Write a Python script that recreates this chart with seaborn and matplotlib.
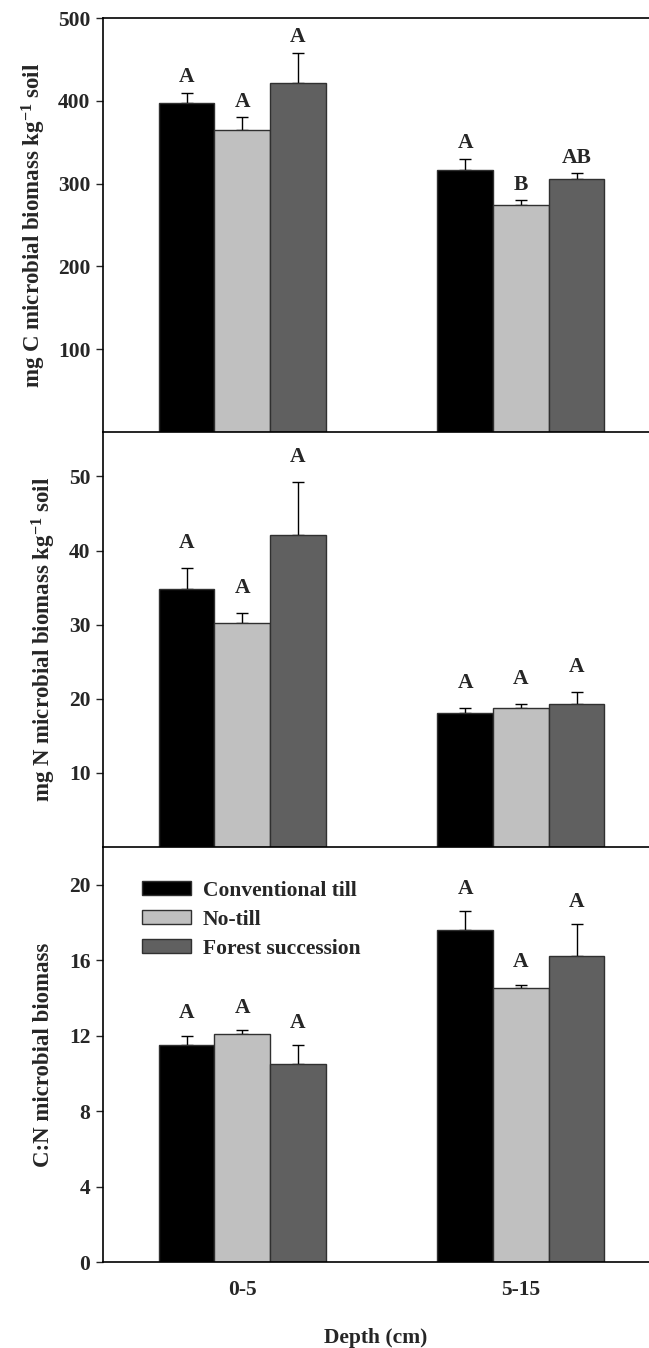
import numpy as np
import pandas as pd
import matplotlib
matplotlib.use("Agg")
import matplotlib.pyplot as plt
import seaborn as sns

# Data
depths = ["0-5", "5-15"]
treatments = ["Conventional till", "No-till", "Forest succession"]
colors = ["#000000", "#c0c0c0", "#606060"]

# Microbial biomass C (mg kg-1 soil): means and standard errors, by depth
c_mean = {"Conventional till": [397, 317], "No-till": [365, 274], "Forest succession": [422, 305]}
c_se = {"Conventional till": [13, 13], "No-till": [15, 6], "Forest succession": [36, 8]}
c_letters = {"Conventional till": ["A", "A"], "No-till": ["A", "B"], "Forest succession": ["A", "AB"]}

# Microbial biomass N (mg kg-1 soil)
n_mean = {"Conventional till": [34.8, 18.1], "No-till": [30.2, 18.8], "Forest succession": [42.1, 19.3]}
n_se = {"Conventional till": [2.8, 0.7], "No-till": [1.4, 0.5], "Forest succession": [7.1, 1.6]}
n_letters = {"Conventional till": ["A", "A"], "No-till": ["A", "A"], "Forest succession": ["A", "A"]}

# C:N ratio of microbial biomass
cn_mean = {"Conventional till": [11.5, 17.6], "No-till": [12.1, 14.5], "Forest succession": [10.5, 16.2]}
cn_se = {"Conventional till": [0.5, 1.0], "No-till": [0.2, 0.2], "Forest succession": [1.0, 1.7]}
cn_letters = {"Conventional till": ["A", "A"], "No-till": ["A", "A"], "Forest succession": ["A", "A"]}

c_ticks = [100, 200, 300, 400, 500]
n_ticks = [10, 20, 30, 40, 50]
cn_ticks = [0, 4, 8, 12, 16, 20]

sns.set_style("ticks")
plt.rcParams["font.family"] = ["Liberation Serif", "DejaVu Serif"]
plt.rcParams["font.weight"] = "bold"
plt.rcParams["axes.labelweight"] = "bold"
plt.rcParams["mathtext.fontset"] = "custom"
plt.rcParams["mathtext.rm"] = "Liberation Serif:bold"
plt.rcParams["mathtext.bf"] = "Liberation Serif:bold"
plt.rcParams["mathtext.default"] = "bf"

FS = 15.5
FS_LAB = 16.5

fig = plt.figure(figsize=(6.49, 13.48), dpi=100)
L, R = 103 / 649, 1.0
H = 1348


def panel_axes(top_px, bot_px):
    ax = fig.add_axes([L, 1 - bot_px / H, R - L, (bot_px - top_px) / H])
    ax.patch.set_alpha(0)
    return ax


def long_form(mean, se, letters):
    rows = []
    for t in treatments:
        for i, d in enumerate(depths):
            rows.append({"Depth": d, "Treatment": t, "mean": mean[t][i],
                         "se": se[t][i], "letter": letters[t][i]})
    return pd.DataFrame(rows)


def draw_panel(ax, mean, se, letters, ylim, ticks, ylabel, label_x, letter_off,
               legend=False):
    df = long_form(mean, se, letters)
    sns.barplot(data=df, x="Depth", y="mean", hue="Treatment", order=depths,
                hue_order=treatments, palette=dict(zip(treatments, colors)),
                width=0.6, gap=0, errorbar=None, edgecolor="#303030",
                linewidth=1.0, saturation=1, ax=ax, legend=legend, zorder=2)
    # One patch per (treatment, depth), in hue order then category order
    bars = [p for p in ax.patches if p.get_height() > 0][:len(df)]
    k = 0
    for t in treatments:
        for i, d in enumerate(depths):
            p = bars[k]
            k += 1
            x = p.get_x() + p.get_width() / 2
            m = mean[t][i]
            e = se[t][i]
            ax.errorbar([x], [m], yerr=[[0], [e]], fmt="none", ecolor="black",
                        elinewidth=1.0, capsize=4.5, capthick=1.0, zorder=1)
            ax.annotate(letters[t][i], (x, m + e), xytext=(0, letter_off),
                        textcoords="offset points", ha="center", va="center",
                        fontsize=FS, fontweight="bold")
    ax.set_xlim(-0.5, 1.46)
    ax.set_ylim(*ylim)
    ax.set_yticks(ticks)
    ax.set_yticklabels([str(v) for v in ticks], fontsize=FS, fontweight="bold")
    ax.set_ylabel(ylabel, fontsize=FS_LAB, fontweight="bold")
    ax.yaxis.set_label_coords(label_x, 0.5)
    ax.tick_params(axis="y", direction="out", length=5, width=1, pad=4)
    ax.tick_params(axis="x", length=0)
    for s in ["left", "bottom", "top"]:
        ax.spines[s].set_linewidth(1.2)
        ax.spines[s].set_color("black")
        ax.spines[s].set_zorder(5)
    ax.spines["right"].set_visible(False)


ax1 = panel_axes(18, 432)
ax2 = panel_axes(432, 847)
ax3 = panel_axes(847, 1262)

draw_panel(ax1, c_mean, c_se, c_letters, (0, 500), c_ticks,
           r"mg C microbial biomass kg$^{-1}$ soil", -0.100, 11)
draw_panel(ax2, n_mean, n_se, n_letters, (0, 56), n_ticks,
           r"mg N microbial biomass kg$^{-1}$ soil", -0.082, 18)
draw_panel(ax3, cn_mean, cn_se, cn_letters, (0, 22), cn_ticks,
           "C:N microbial biomass", -0.090, 16, legend=True)

ax2.spines["top"].set_visible(False)
ax3.spines["top"].set_visible(False)
for ax in (ax1, ax2):
    ax.set_xticklabels([])
    ax.set_xlabel("")

ax3.set_xticks(range(len(depths)))
ax3.set_xticklabels(depths, fontsize=FS, fontweight="bold")
ax3.tick_params(axis="x", pad=13)
ax3.set_xlabel("Depth (cm)", fontsize=FS, fontweight="bold", labelpad=20)

leg = ax3.legend(loc="upper left", bbox_to_anchor=(0.055, 0.94), frameon=False,
                 fontsize=FS, handlelength=2.3, handleheight=0.6,
                 handletextpad=0.55, labelspacing=0.42, borderaxespad=0)
for txt in leg.get_texts():
    txt.set_fontweight("bold")

fig.savefig("out.png", dpi=100)
